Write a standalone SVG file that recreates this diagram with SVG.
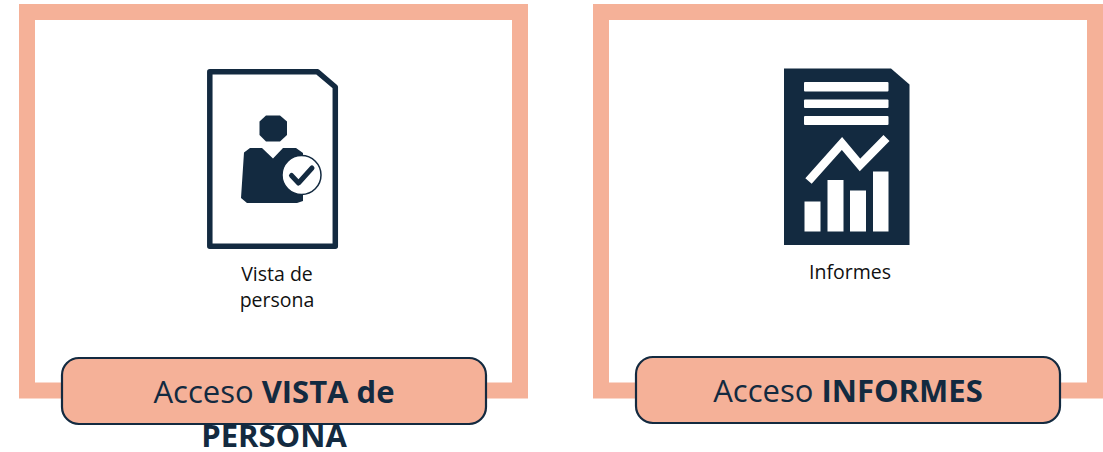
<svg xmlns="http://www.w3.org/2000/svg" width="1103" height="452" viewBox="0 0 1103 452">
<style>
.frame{fill:#fff;stroke:#f5b198;stroke-width:16}
.btn{fill:#f5b198;stroke:#132a40;stroke-width:2.2}
.dark{fill:#132a40}
.white{fill:#fff}
text{font-family:"Open Sans","Noto Sans","Liberation Sans",sans-serif;fill:#132a40}
.cap{font-size:19.5px;fill:#111;text-anchor:middle}
.big{font-size:31px;text-anchor:middle}
.b{font-weight:700}
</style>
<rect width="1103" height="452" fill="#fff"/>
<g id="node-vista">
<rect class="frame" x="27" y="12" width="493" height="378.500"/>
<path d="M209.800 71.800H317.500L335.300 87V246.300H209.800Z" fill="#fff" stroke="#132a40" stroke-width="5.500" stroke-linejoin="round"/>
<path class="dark" d="M266 115.500H280L287 121.500V135L280 141.500H266L259.500 135V121.500Z"/>
<path class="dark" d="M244 152.500L250 148H262L273 158.500L283 148H296L303 153V201L297 203H247L241 198Z"/>
<circle cx="301.500" cy="175" r="19.500" fill="#fff" stroke="#132a40" stroke-width="1.500"/>
<path d="M291.500 175.500L298.500 183L312 168" fill="none" stroke="#132a40" stroke-width="5" stroke-linecap="round" stroke-linejoin="round"/>
<text class="cap"><tspan x="277" y="280.500">Vista de</tspan><tspan x="277" y="306.500">persona</tspan></text>
<rect class="btn" x="62" y="358" width="424" height="66" rx="17"/>
<text class="big" x="274" y="403">Acceso <tspan class="b">VISTA de</tspan></text>
<text class="big b" x="274" y="447">PERSONA</text>
</g>
<g id="node-informes">
<rect class="frame" x="601" y="12" width="494" height="378.500"/>
<path class="dark" d="M784 68.500H891L909.500 84.500V245H784Z"/>
<rect class="white" x="804" y="82" width="84.500" height="9.500" rx="1"/>
<rect class="white" x="804" y="99.500" width="84.500" height="8.500" rx="1"/>
<rect class="white" x="804" y="116" width="84.500" height="9" rx="1"/>
<path d="M808.500 181L842 143.500L860 165L886.500 138" fill="none" stroke="#fff" stroke-width="8.500" stroke-linejoin="miter"/>
<rect class="white" x="804.500" y="201.500" width="16" height="30"/>
<rect class="white" x="827.500" y="180" width="16" height="51.500"/>
<rect class="white" x="850" y="190.500" width="16" height="41"/>
<rect class="white" x="873" y="171.500" width="15.500" height="60"/>
<text class="cap" x="850" y="278.500">Informes</text>
<rect class="btn" x="636" y="357" width="424" height="66" rx="17"/>
<text class="big" x="848" y="402">Acceso <tspan class="b">INFORMES</tspan></text>
</g>
<g id="connectors"/>
</svg>
